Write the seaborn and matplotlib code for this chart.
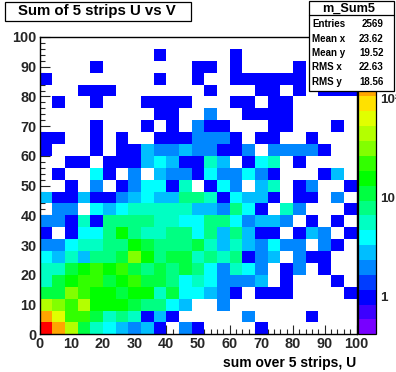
import numpy as np
import matplotlib
matplotlib.use("Agg")
import matplotlib.pyplot as plt
import seaborn as sns
from matplotlib.colors import ListedColormap, LogNorm
from matplotlib.patches import Rectangle
from matplotlib.lines import Line2D
from matplotlib.ticker import FixedLocator, NullFormatter

# counts per bin, one list per row of the histogram (V bins of width 4, bottom row first)
r00 = [350,120,42,10,5,4,3,2,3,1,0,2,1,0,0,0,0,1,0,0,0,0,0,0,0]
r01 = [120,60,21,21,10,5,7,5,1,3,1,0,0,0,0,0,2,0,0,0,0,1,0,0,0]
r02 = [42,30,21,42,15,15,15,10,7,7,4,3,0,0,2,0,0,0,0,0,0,0,0,0,0]
r03 = [10,10,30,21,15,15,10,15,15,5,10,4,4,3,2,1,0,1,1,1,0,0,0,0,1]
r04 = [6,10,15,21,21,10,15,21,10,10,7,4,5,4,2,2,2,3,0,1,0,0,0,1,0]
r05 = [5,5,10,15,21,15,21,10,7,10,7,10,7,4,2,5,4,2,0,1,2,0,1,0,0]
r06 = [4,3,5,3,7,7,10,30,15,7,10,10,5,7,5,7,1,2,3,0,2,1,1,0,0]
r07 = [2,2,4,5,5,8,8,15,10,7,7,7,10,5,3,5,3,2,4,2,2,0,2,1,0]
r08 = [1,0,1,4,4,8,15,8,5,5,7,7,4,7,3,7,3,1,1,0,1,3,2,0,1]
r09 = [2,2,1,5,1,7,7,7,7,5,5,4,4,7,7,4,2,3,3,2,0,1,0,1,0]
r10 = [0,2,2,0,4,3,4,5,5,5,5,5,3,3,2,7,4,1,0,5,2,0,0,0,1]
r11 = [3,1,1,3,1,1,2,3,4,3,3,7,7,5,1,4,3,3,1,0,1,1,0,2,0]
r12 = [0,0,1,0,2,0,1,2,4,4,1,5,0,1,4,2,0,3,5,0,1,2,0,0,1]
r13 = [0,1,0,0,4,1,0,2,0,3,2,2,1,4,2,2,4,2,1,0,0,0,1,3,0]
r14 = [0,0,1,1,0,1,1,1,3,4,3,1,1,5,3,0,1,4,5,0,1,0,0,0,0]
r15 = [1,0,0,0,1,0,1,1,3,2,2,3,2,2,1,1,2,0,2,2,2,2,1,0,0]
r16 = [1,1,0,0,1,0,1,0,0,1,1,1,2,2,2,1,0,1,1,0,0,1,0,0,0]
r17 = [0,0,0,0,1,0,0,0,1,0,1,0,2,1,1,0,0,0,1,1,0,0,0,1,0]
r18 = [0,0,0,0,0,0,0,0,0,1,1,0,0,2,0,0,1,1,1,1,0,0,0,0,0]
r19 = [0,1,0,0,1,0,0,0,1,1,1,1,0,0,0,1,1,0,1,1,0,0,0,0,0]
r20 = [0,0,0,1,1,1,0,0,0,0,0,0,0,1,0,0,0,1,1,0,1,0,1,1,1]
r21 = [1,0,0,0,0,0,0,0,0,1,0,0,1,0,0,1,1,1,1,1,1,0,0,0,0]
r22 = [0,0,0,0,1,0,0,0,0,0,0,0,1,1,0,1,0,0,0,0,1,0,0,0,0]
r23 = [0,0,0,0,0,0,0,0,0,1,0,0,0,0,0,1,0,0,0,0,0,0,0,0,0]
r24 = [0]*25
rows = [r00,r01,r02,r03,r04,r05,r06,r07,r08,r09,r10,r11,r12,
        r13,r14,r15,r16,r17,r18,r19,r20,r21,r22,r23,r24]

palette = ["#7800ff","#3c00ff","#0000ff","#003cff","#0087ff","#00beff","#00ffff",
           "#00ffc3","#00ff82","#00ff41","#00ff00","#32ff00","#82ff00","#b4ff00",
           "#e1ff00","#ffe100","#ffa500","#ff6e00","#ff3c00","#ff0000"]
x_ticks = list(range(0, 101, 10))
y_ticks = list(range(0, 101, 10))
title = "Sum of 5 strips U vs V"
xlabel = "sum over 5 strips, U"
stat_name = "m_Sum5"
stat_keys = ["Entries", "Mean x", "Mean y", "RMS x", "RMS y"]
stat_vals = ["2569", "23.62", "19.52", "22.63", "18.56"]
bin_width = 4

W, H = 396, 372
sns.set_style("ticks")
plt.rcParams["font.family"] = ["Liberation Sans", "DejaVu Sans"]
plt.rcParams["font.weight"] = "bold"

fig = plt.figure(figsize=(W / 100, H / 100), dpi=100, facecolor="white")


def box(x0, y0, x1, y1):
    return [x0 / W, 1 - y1 / H, (x1 - x0) / W, (y1 - y0) / H]


ax = fig.add_axes(box(39.5, 37, 356.5, 334.3))
cax = fig.add_axes(box(357.5, 37, 376, 334.3))

data = np.array(rows, dtype=float)
sns.heatmap(data, ax=ax, cbar_ax=cax, mask=data == 0,
            cmap=ListedColormap(palette), norm=LogNorm(vmin=0.413, vmax=413),
            xticklabels=False, yticklabels=False, linewidths=0)

ax.set_xlim(0, 25)
ax.set_ylim(0, 25)
ax.set_xlabel("")
ax.set_ylabel("")
ax.set_xticks([v / bin_width for v in x_ticks], [str(v) for v in x_ticks])
ax.set_yticks([v / bin_width for v in y_ticks], [str(v) for v in y_ticks], rotation=0)
minor = [v / bin_width for v in range(0, 101, 2) if v % 10]
ax.set_xticks(minor, minor=True)
ax.set_yticks(minor, minor=True)
ax.tick_params(which="major", direction="in", length=9.5 * 0.72, width=0.8,
               labelsize=10.4, pad=2, top=False, right=False)
ax.tick_params(which="minor", direction="in", length=4.7 * 0.72, width=0.8,
               top=False, right=False)
for lab in ax.get_xticklabels() + ax.get_yticklabels():
    lab.set_fontweight("bold")
for s in ax.spines.values():
    s.set_visible(True)
    s.set_color("black")
    s.set_linewidth(1)

cb = ax.collections[0].colorbar
cb.outline.set_edgecolor("black")
cb.outline.set_linewidth(0.9)
cax.yaxis.set_major_locator(FixedLocator([1, 10, 100]))
cax.set_yticklabels(["1", "10", "10\u00b2"])
cax.yaxis.set_minor_locator(FixedLocator(
    [m * d for d in (0.1, 1, 10, 100) for m in range(2, 10) if 0.413 < m * d < 413]))
cax.yaxis.set_minor_formatter(NullFormatter())
cax.tick_params(which="major", direction="in", length=9.5 * 0.72, width=0.8,
                labelsize=9.6, pad=3.2, left=False, right=True)
cax.tick_params(which="minor", direction="in", length=4.7 * 0.72, width=0.8,
                left=False, right=True)
for lab in cax.get_yticklabels():
    lab.set_fontweight("bold")


def frect(x0, y0, x1, y1):
    l, b, w, h = box(x0, y0, x1, y1)
    r = Rectangle((l, b), w, h, transform=fig.transFigure, facecolor="white",
                  edgecolor="black", linewidth=0.9, zorder=10)
    fig.add_artist(r)


def ftext(x, y, s, size, ha="center"):
    fig.text(x / W, 1 - y / H, s, fontsize=size, ha=ha, va="center",
             fontweight="bold", color="black", zorder=11)


frect(4.5, 1.5, 190.5, 20.5)
ftext(97, 11, title, 10.8)

frect(308.5, 0.5, 394, 90.5)
fig.add_artist(Line2D([308.5 / W, 394 / W], [1 - 15 / H] * 2, transform=fig.transFigure,
                      color="black", linewidth=0.9, zorder=11))
ftext(349, 9, stat_name, 9.2)
for yy, k, v in zip([24, 38.5, 52.5, 67, 82], stat_keys, stat_vals):
    ftext(312.5, yy, k, 7, ha="left")
    ftext(383.5, yy, v, 7, ha="right")

ftext(356.5, 363, xlabel, 10, ha="right")

fig.savefig("out.png", dpi=100, facecolor="white")
